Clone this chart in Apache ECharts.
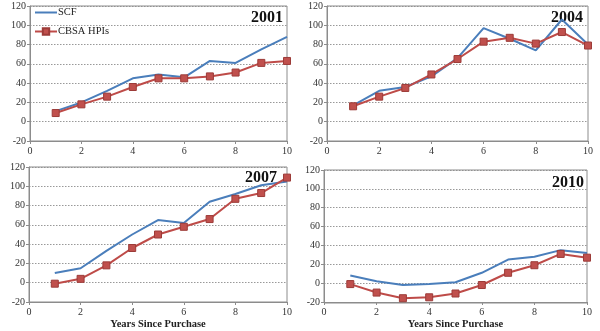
<!DOCTYPE html>
<html><head><meta charset="utf-8">
<script src="https://cdn.jsdelivr.net/npm/echarts@6/dist/echarts.min.js"></script>
<style>html,body{margin:0;padding:0;background:#fff}#c{width:600px;height:331px}</style>
</head><body><div id="c"></div>
<script>
var years = [1,2,3,4,5,6,7,8,9,10];
var panelTitles = ['2001','2004','2007','2010'];
var scf2001  = [11,20,32,45,49,46,63,61,75,88];
var cbsa2001 = [9,18,26,36,45,45,47,51,61,63];
var scf2004  = [17,32,36,47,66,97,86,74,106,80];
var cbsa2004 = [16,26,35,49,65,83,87,81,93,79];
var scf2007  = [10,15,33,50,65,62,84,92,101,105];
var cbsa2007 = [-1,4,18,36,50,58,66,87,93,109];
var scf2010  = [8,2,-2,-1,1,11,25,28,35,32];
var cbsa2010 = [-1,-10,-16,-15,-11,-2,11,19,31,27];
var xTicks = [0,2,4,6,8,10];
var yTicks = [-20,0,20,40,60,80,100,120];
var xTitle = 'Years Since Purchase';

var scfAll = [scf2001, scf2004, scf2007, scf2010];
var cbsaAll = [cbsa2001, cbsa2004, cbsa2007, cbsa2010];

var grids = [
  {left:30, top:6, width:257, height:135},
  {left:327, top:6, width:261, height:135},
  {left:29, top:167, width:258, height:135},
  {left:324, top:170, width:263, height:133}
];
var font = '"Liberation Serif","Times New Roman",serif';
var xAxes = [], yAxes = [], series = [];
for (var i = 0; i < 4; i++) {
  xAxes.push({
    gridIndex:i, type:'value', min:xTicks[0], max:xTicks[xTicks.length-1], interval:2,
    axisLine:{show:true, onZero:false, lineStyle:{color:'#8c8c8c'}},
    axisTick:{show:true, length:3, lineStyle:{color:'#8c8c8c'}},
    axisLabel:{fontFamily:font, fontSize:10, color:'#333', margin:5},
    splitLine:{show:false},
    name: i >= 2 ? xTitle : '', nameLocation:'middle', nameGap:17,
    nameTextStyle:{fontFamily:font, fontSize:10.5, fontWeight:'bold', color:'#222'}
  });
  yAxes.push({
    gridIndex:i, type:'value', min:yTicks[0], max:yTicks[yTicks.length-1], interval:20,
    axisLine:{show:true, lineStyle:{color:'#8c8c8c'}},
    axisTick:{show:true, length:3, lineStyle:{color:'#8c8c8c'}},
    axisLabel:{fontFamily:font, fontSize:10, color:'#333', margin:4},
    splitLine:{show:true, lineStyle:{color:'#999', type:[1.5,1.5], width:1}}
  });
  series.push({
    name:'SCF', type:'line', xAxisIndex:i, yAxisIndex:i,
    data: years.map(function(x,j){return [x, scfAll[i][j]];}),
    symbol:'none', lineStyle:{color:'#4a7ebb', width:2}, itemStyle:{color:'#4a7ebb'},
    z:3
  });
  series.push({
    name:'CBSA HPIs', type:'line', xAxisIndex:i, yAxisIndex:i,
    data: years.map(function(x,j){return [x, cbsaAll[i][j]];}),
    symbol:'rect', symbolSize:7,
    lineStyle:{color:'#be4b48', width:2},
    itemStyle:{color:'#c0504d', borderColor:'#9c3b38', borderWidth:1},
    z:4
  });
}
var titleGraphics = [
  {x:283, y:10}, {x:583, y:10}, {x:277, y:170}, {x:584, y:175}
].map(function(p, i){
  return {type:'text', right: 600 - p.x, top: p.y,
    style:{text: panelTitles[i], font:'bold 16px ' + font, fill:'#111'}};
});
var borders = grids.map(function(g){
  return {type:'rect', shape:{x:g.left, y:g.top, width:g.width, height:g.height},
    style:{fill:'none', stroke:'#8c8c8c', lineWidth:1}, silent:true, z:1};
});
var chart = echarts.init(document.getElementById('c'));
chart.setOption({
  animation:false,
  grid: grids,
  xAxis: xAxes,
  yAxis: yAxes,
  legend: {
    left:34, top:7, orient:'vertical', itemGap:8, itemWidth:22, itemHeight:8,
    data:[{name:'SCF', icon:'path://M0,0 H22 V2 H0 Z'}, {name:'CBSA HPIs'}],
    textStyle:{fontFamily:font, fontSize:10.5, color:'#222', padding:[0,0,0,-4]},
    padding:0
  },
  graphic: titleGraphics.concat(borders),
  series: series
});
</script></body></html>
